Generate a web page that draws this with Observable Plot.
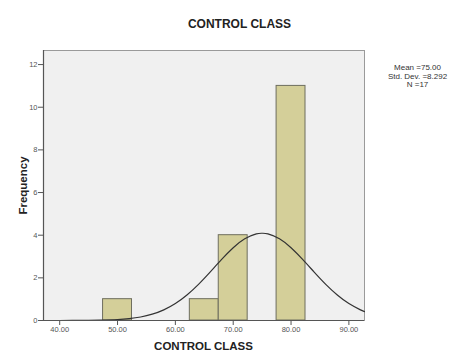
<!DOCTYPE html>
<html>
<head>
<meta charset="utf-8">
<script src="https://cdn.jsdelivr.net/npm/d3@7"></script>
<script src="https://cdn.jsdelivr.net/npm/@observablehq/plot@0.6"></script>
<style>
  html, body { margin: 0; padding: 0; background: #ffffff; }
  #chart svg { display: block; }
</style>
</head>
<body>
<div id="chart"></div>
<script>
// Histogram bins (CONTROL CLASS scores)
const binLower = [47.5, 62.5, 67.5, 77.5];
const binUpper = [52.5, 67.5, 72.5, 82.5];
const frequency = [1, 1, 4, 11];

// Normal curve points (Mean 75.00, SD 8.292, N 17)
const curveX = [37.2, 40, 45, 47, 50, 52, 54, 56, 58, 60, 62, 64, 66, 68, 70, 72, 74, 75, 76, 78, 80, 82, 84, 86, 88, 90, 92, 92.7];
const curveY = [0.0001, 0.0006, 0.0059, 0.0137, 0.0434, 0.0873, 0.1655, 0.296, 0.500, 0.796, 1.197, 1.696, 2.270, 2.864, 3.410, 3.831, 4.060, 4.090, 4.060, 3.831, 3.410, 2.864, 2.270, 1.696, 1.197, 0.796, 0.500, 0.419];

const xTicks = [40, 50, 60, 70, 80, 90];
const yTicks = [0, 2, 4, 6, 8, 10, 12];

const title = "CONTROL CLASS";
const xLabel = "CONTROL CLASS";
const yLabel = "Frequency";
const statsLines = ["Mean =75.00", "Std. Dev. =8.292", "N =17"];

const bars = frequency.map((f, i) => ({x1: binLower[i], x2: binUpper[i], y: f}));
const curve = curveX.map((x, i) => ({x, y: curveY[i]}));

const font = "Liberation Sans, Arial, sans-serif";

const chart = Plot.plot({
  width: 451,
  height: 354,
  marginLeft: 43,
  marginRight: 87,
  marginTop: 50,
  marginBottom: 34,
  style: {fontFamily: font, background: "#ffffff", overflow: "visible"},
  x: {domain: [37.2, 92.7], ticks: xTicks, tickFormat: d => d.toFixed(2), label: null},
  y: {domain: [0, 12.66], ticks: yTicks, label: null},
  marks: [
    Plot.frame({fill: "#f0f0f0", stroke: "#9a9a9a", strokeWidth: 1}),
    Plot.rectY(bars, {x1: "x1", x2: "x2", y: "y", fill: "#d4cf99", stroke: "#6e6e5e", strokeWidth: 1, inset: 0}),
    Plot.line(curve, {x: "x", y: "y", stroke: "#333333", strokeWidth: 1.2, curve: "natural"}),
    Plot.ruleX([37.2], {stroke: "#555555", strokeWidth: 1.2}),
    Plot.ruleY([0], {stroke: "#555555", strokeWidth: 1.2}),
    Plot.axisX({ticks: xTicks, tickFormat: d => d.toFixed(2), tickSize: 5, tickPadding: 1, fontSize: 7.5, color: "#555555", stroke: "#555555", label: null}),
    Plot.axisY({ticks: yTicks, tickSize: 5, tickPadding: 1, fontSize: 7.5, color: "#555555", stroke: "#555555", label: null}),
    Plot.text([title], {frameAnchor: "top-left", dx: 196, dy: -31, text: d => d, fontSize: 12, fontWeight: "bold", fill: "#222222", textAnchor: "middle"}),
    Plot.text([xLabel], {frameAnchor: "bottom-left", dx: 160, dy: 29, text: d => d, fontSize: 11.5, fontWeight: "bold", fill: "#222222", textAnchor: "middle"}),
    Plot.text([yLabel], {frameAnchor: "top-left", dx: -25, dy: 135, text: d => d, fontSize: 11.5, fontWeight: "bold", fill: "#222222", rotate: -90, textAnchor: "middle"}),
    Plot.text([statsLines.join("\n")], {frameAnchor: "top-right", dx: 53, dy: 14, text: d => d, fontSize: 8, fill: "#333333", textAnchor: "middle", lineAnchor: "top", lineHeight: 1.05})
  ]
});
document.getElementById("chart").appendChild(chart);
</script>
</body>
</html>
